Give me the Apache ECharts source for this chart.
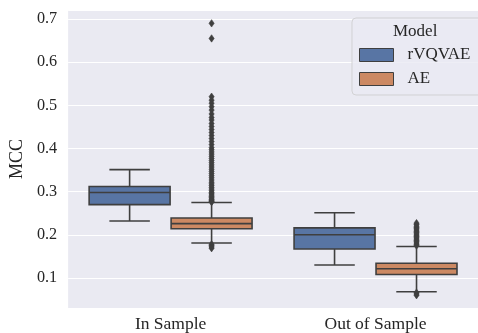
<!DOCTYPE html>
<html>
<head>
<meta charset="utf-8">
<script src="https://cdn.jsdelivr.net/npm/echarts@6/dist/echarts.min.js"></script>
<style>
html,body{margin:0;padding:0;background:#ffffff;}
#chart{width:478px;height:333px;}
</style>
</head>
<body>
<div id="chart"></div>
<script>
// ---- data ----
const categories = ['In Sample', 'Out of Sample'];
const models = ['rVQVAE', 'AE'];
// [whiskerLow, Q1, median, Q3, whiskerHigh] per category
const rvqvaeStats = [
  [0.232, 0.270, 0.298, 0.312, 0.351],
  [0.130, 0.167, 0.200, 0.216, 0.251]
];
const aeStats = [
  [0.181, 0.214, 0.226, 0.239, 0.275],
  [0.068, 0.108, 0.1215, 0.134, 0.173]
];
const aeOutliersIn = [
  0.690, 0.655, 0.520, 0.512, 0.505, 0.497, 0.489, 0.480, 0.472, 0.466,
  0.458, 0.451, 0.444, 0.437, 0.430, 0.423, 0.416, 0.409, 0.402, 0.397,
  0.392, 0.387, 0.382, 0.377, 0.372, 0.367, 0.362, 0.357, 0.352, 0.347,
  0.342, 0.337, 0.332, 0.327, 0.322, 0.318, 0.314, 0.310, 0.306, 0.302,
  0.298, 0.295, 0.292, 0.289, 0.286, 0.283, 0.281, 0.279, 0.277, 0.276,
  0.178, 0.175, 0.172, 0.169
];
const aeOutliersOut = [
  0.175, 0.178, 0.181, 0.184, 0.187, 0.190, 0.193, 0.196, 0.199, 0.202,
  0.205, 0.208, 0.211, 0.214, 0.217, 0.220, 0.224, 0.227,
  0.066, 0.063, 0.060
];
const rvqvaeOutliersIn = [];
const rvqvaeOutliersOut = [];

// ---- styles ----
const COLORS = ['#5875a4', '#cc8963'];
const EDGE = '#3f3f3f';
const TEXT = '#262626';
const FONT = '"Liberation Serif", "Times New Roman", serif';
const HUE_OFFSET = 0.2;   // fraction of band
const BOX_FRAC = 0.395;   // fraction of band

function boxData(stats, hue) {
  return stats.map((s, i) => [i, hue].concat(s));
}
function outlierData(lists, hue) {
  const out = [];
  lists.forEach((lst, i) => lst.forEach(v => out.push([i, hue, v])));
  return out;
}

function renderBox(params, api) {
  const cat = api.value(0), hue = api.value(1);
  const bw = api.size([1, 0])[0];
  const cx = api.coord([cat, 0.3])[0] + (hue === 0 ? -1 : 1) * bw * HUE_OFFSET;
  const half = bw * BOX_FRAC / 2;
  const yv = i => api.coord([cat, api.value(i)])[1];
  const lo = yv(2), q1 = yv(3), med = yv(4), q3 = yv(5), hi = yv(6);
  const ls = { stroke: EDGE, lineWidth: 1.6 };
  return {
    type: 'group',
    children: [
      { type: 'line', shape: { x1: cx, y1: q3, x2: cx, y2: hi }, style: ls },
      { type: 'line', shape: { x1: cx, y1: q1, x2: cx, y2: lo }, style: ls },
      { type: 'line', shape: { x1: cx - half / 2, y1: hi, x2: cx + half / 2, y2: hi }, style: ls },
      { type: 'line', shape: { x1: cx - half / 2, y1: lo, x2: cx + half / 2, y2: lo }, style: ls },
      { type: 'rect', shape: { x: cx - half, y: q3, width: half * 2, height: q1 - q3 },
        style: { fill: COLORS[hue], stroke: EDGE, lineWidth: 1.6 } },
      { type: 'line', shape: { x1: cx - half, y1: med, x2: cx + half, y2: med }, style: ls }
    ]
  };
}

function renderOutlier(params, api) {
  const cat = api.value(0), hue = api.value(1);
  const bw = api.size([1, 0])[0];
  const p = api.coord([cat, api.value(2)]);
  const cx = p[0] + (hue === 0 ? -1 : 1) * bw * HUE_OFFSET;
  const cy = p[1];
  return {
    type: 'polygon',
    shape: { points: [[cx, cy - 3.7], [cx + 2.6, cy], [cx, cy + 3.7], [cx - 2.6, cy]] },
    style: { fill: EDGE, stroke: EDGE, lineWidth: 0.6 }
  };
}

const chart = echarts.init(document.getElementById('chart'), null, { renderer: 'canvas' });
chart.setOption({
  animation: false,
  backgroundColor: '#ffffff',
  textStyle: { fontFamily: FONT },
  grid: {
    left: 67, top: 10, width: 420, height: 298,
    show: true, backgroundColor: '#eaeaf2', borderWidth: 0, containLabel: false
  },
  title: {
    text: 'Model', left: 393, top: 23, padding: 0,
    textStyle: { fontFamily: FONT, fontSize: 17, fontWeight: 'normal', color: TEXT }
  },
  legend: {
    data: models.map((m, i) => ({
      name: m, icon: 'rect',
      itemStyle: { color: COLORS[i], borderColor: EDGE, borderWidth: 1 }
    })),
    orient: 'vertical',
    left: 352, top: 18,
    padding: [28.5, 24, 7.5, 7],
    itemWidth: 34, itemHeight: 13, itemGap: 7,
    selectedMode: false,
    backgroundColor: 'rgba(234,234,242,0.8)',
    borderColor: 'rgba(204,204,204,0.8)', borderWidth: 1, borderRadius: 4,
    textStyle: { fontFamily: FONT, fontSize: 17, lineHeight: 17, color: TEXT, padding: [0, 0, 0, 9] }
  },
  xAxis: {
    type: 'category',
    data: categories,
    boundaryGap: true,
    axisLine: { show: false },
    axisTick: { show: false },
    splitLine: { show: false },
    axisLabel: { fontFamily: FONT, fontSize: 17.5, color: TEXT, margin: 7 }
  },
  yAxis: {
    type: 'value',
    min: 0.0304, max: 0.7209,
    name: 'MCC',
    nameLocation: 'middle',
    nameGap: 30,
    nameTextStyle: { fontFamily: FONT, fontSize: 18, color: TEXT },
    axisLine: { show: false },
    axisTick: { show: false },
    splitLine: { show: true, lineStyle: { color: '#ffffff', width: 1.2 } },
    axisLabel: {
      fontFamily: FONT, fontSize: 16.2, color: TEXT, margin: 11,
      showMinLabel: false, showMaxLabel: false,
      formatter: v => v.toFixed(1)
    }
  },
  series: [
    {
      name: models[0], type: 'custom', renderItem: renderBox,
      itemStyle: { color: COLORS[0] },
      encode: { x: 0, y: [2, 3, 4, 5, 6] },
      data: boxData(rvqvaeStats, 0), z: 2
    },
    {
      name: models[1], type: 'custom', renderItem: renderBox,
      itemStyle: { color: COLORS[1] },
      encode: { x: 0, y: [2, 3, 4, 5, 6] },
      data: boxData(aeStats, 1), z: 2
    },
    {
      name: models[0], type: 'custom', renderItem: renderOutlier,
      itemStyle: { color: COLORS[0] },
      encode: { x: 0, y: 2 },
      data: outlierData([rvqvaeOutliersIn, rvqvaeOutliersOut], 0), z: 3
    },
    {
      name: models[1], type: 'custom', renderItem: renderOutlier,
      itemStyle: { color: COLORS[1] },
      encode: { x: 0, y: 2 },
      data: outlierData([aeOutliersIn, aeOutliersOut], 1), z: 3
    }
  ]
});
</script>
</body>
</html>
